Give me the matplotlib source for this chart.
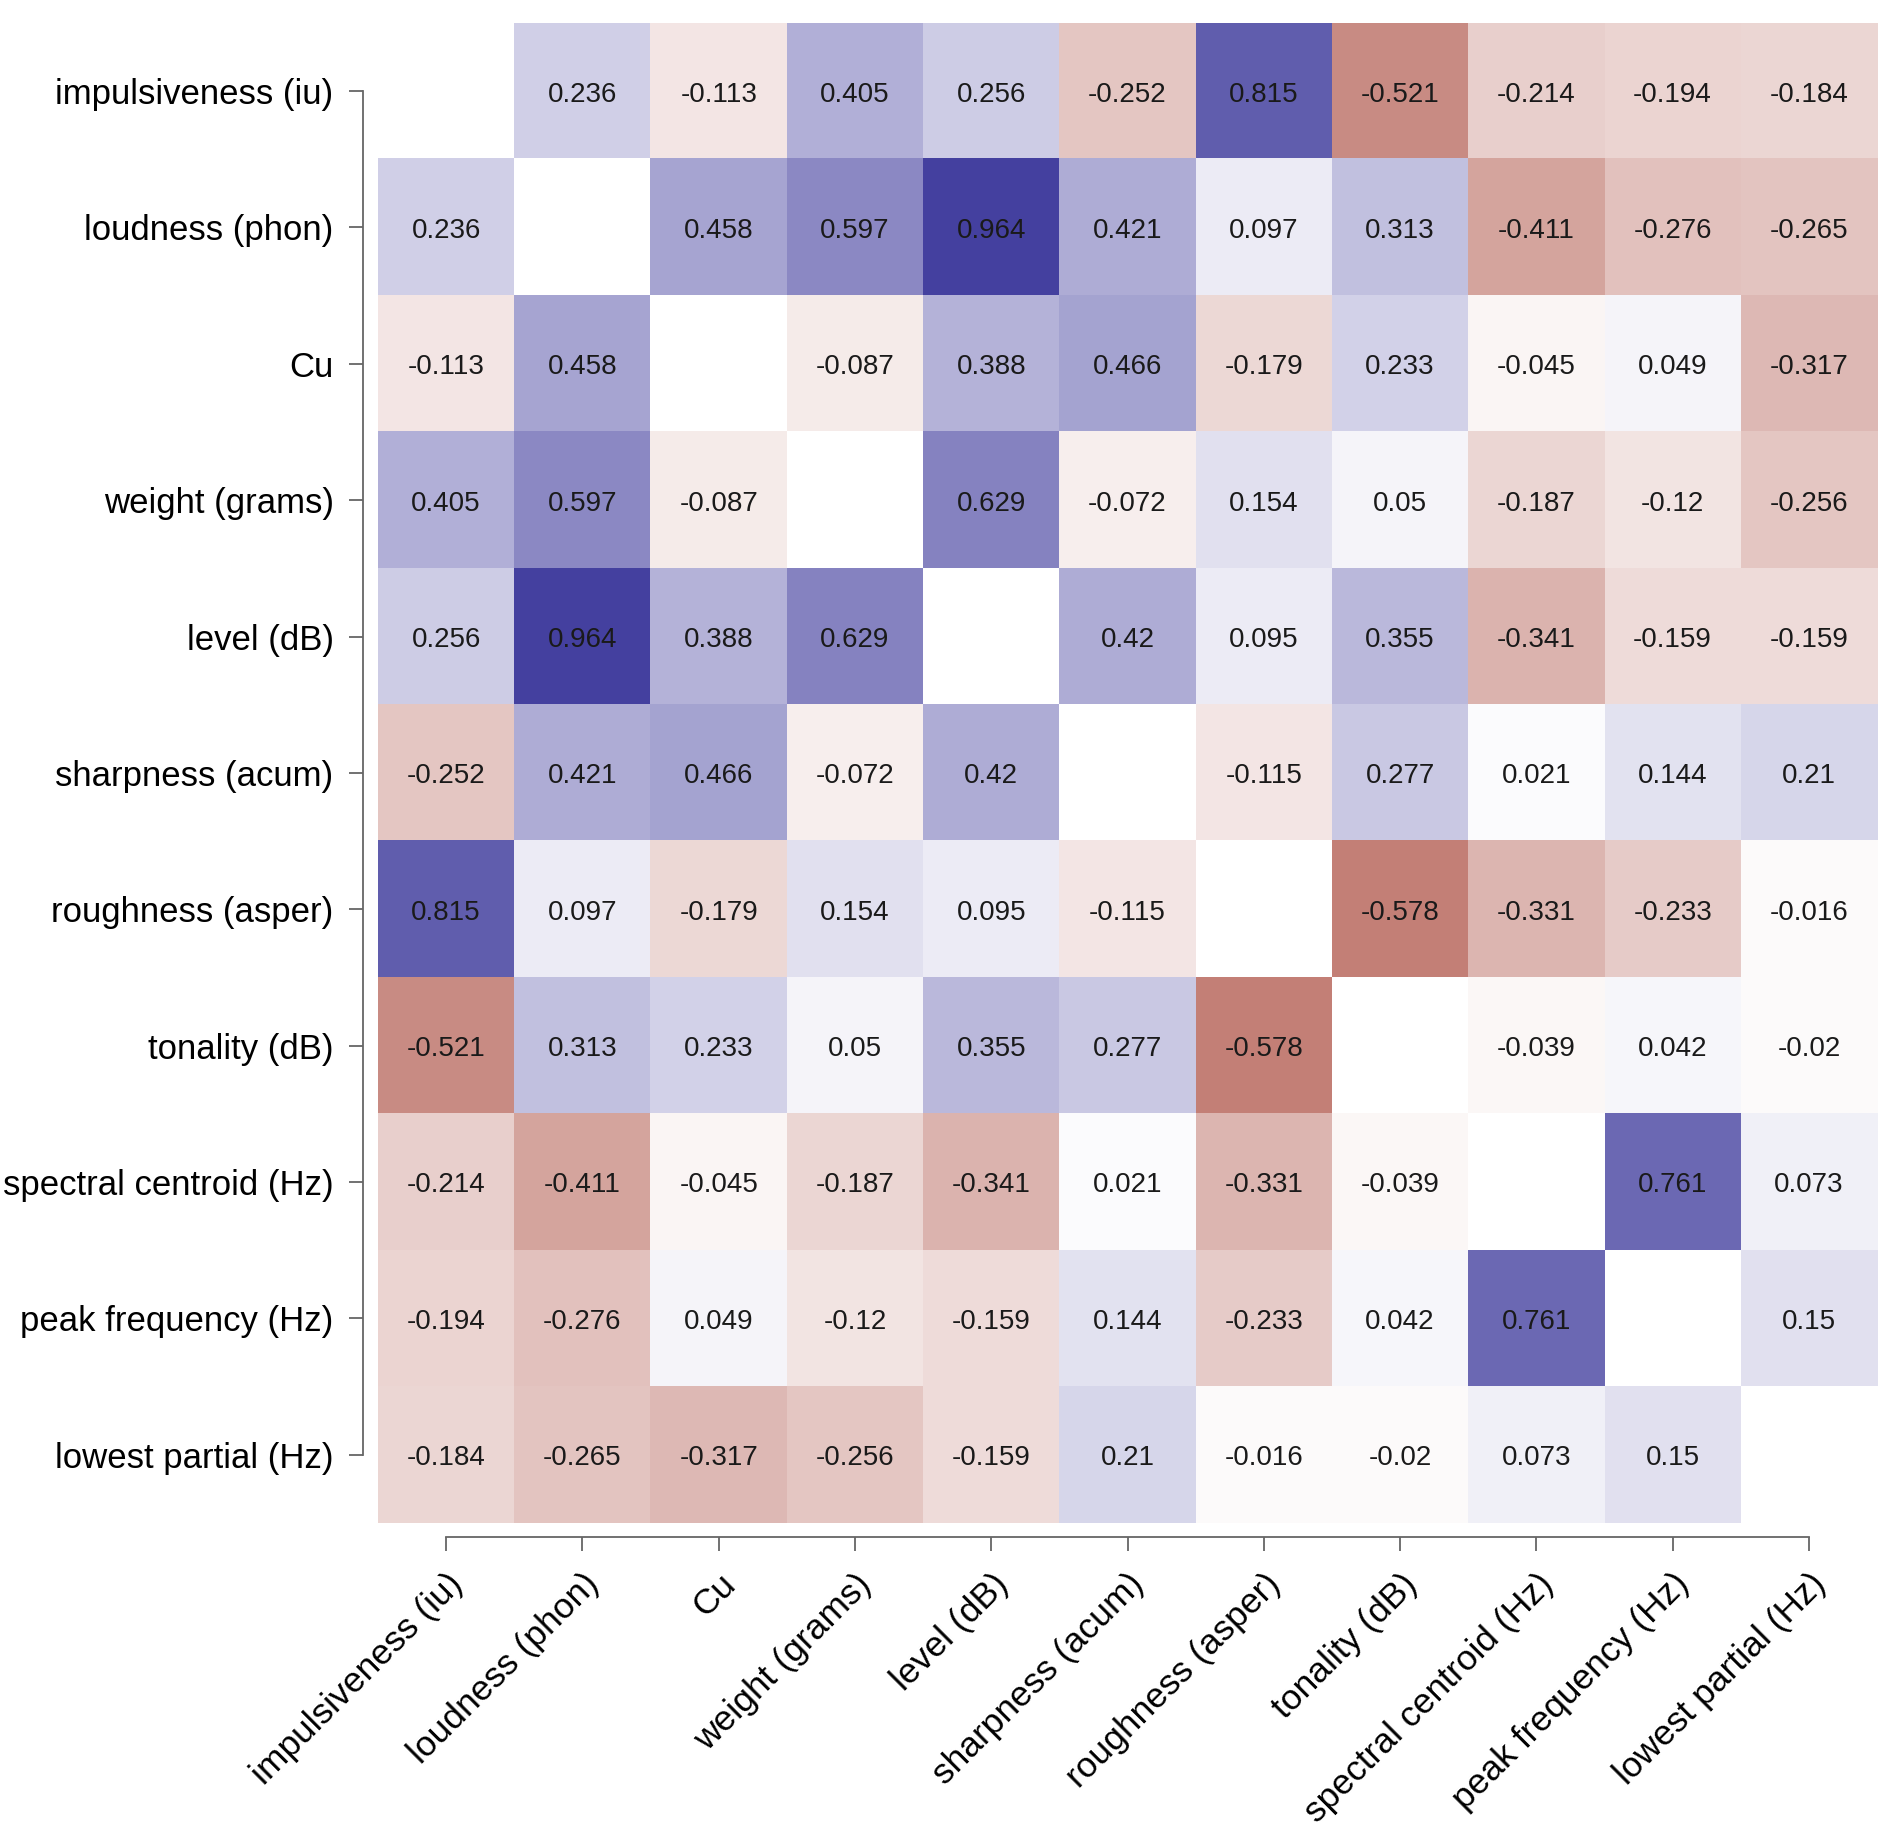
import numpy as np
import matplotlib
matplotlib.use("Agg")
import matplotlib.pyplot as plt
from matplotlib.colors import LinearSegmentedColormap

plt.rcParams['font.family'] = ['Liberation Sans', 'DejaVu Sans']

# variable names (same order for rows and columns)
labels = ['impulsiveness (iu)', 'loudness (phon)', 'Cu', 'weight (grams)',
          'level (dB)', 'sharpness (acum)', 'roughness (asper)', 'tonality (dB)',
          'spectral centroid (Hz)', 'peak frequency (Hz)', 'lowest partial (Hz)']

# correlation matrix, diagonal left empty
nan = np.nan
r_impulsiveness = [nan, 0.236, -0.113, 0.405, 0.256, -0.252, 0.815, -0.521, -0.214, -0.194, -0.184]
r_loudness      = [0.236, nan, 0.458, 0.597, 0.964, 0.421, 0.097, 0.313, -0.411, -0.276, -0.265]
r_cu            = [-0.113, 0.458, nan, -0.087, 0.388, 0.466, -0.179, 0.233, -0.045, 0.049, -0.317]
r_weight        = [0.405, 0.597, -0.087, nan, 0.629, -0.072, 0.154, 0.05, -0.187, -0.12, -0.256]
r_level         = [0.256, 0.964, 0.388, 0.629, nan, 0.42, 0.095, 0.355, -0.341, -0.159, -0.159]
r_sharpness     = [-0.252, 0.421, 0.466, -0.072, 0.42, nan, -0.115, 0.277, 0.021, 0.144, 0.21]
r_roughness     = [0.815, 0.097, -0.179, 0.154, 0.095, -0.115, nan, -0.578, -0.331, -0.233, -0.016]
r_tonality      = [-0.521, 0.313, 0.233, 0.05, 0.355, 0.277, -0.578, nan, -0.039, 0.042, -0.02]
r_centroid      = [-0.214, -0.411, -0.045, -0.187, -0.341, 0.021, -0.331, -0.039, nan, 0.761, 0.073]
r_peak          = [-0.194, -0.276, 0.049, -0.12, -0.159, 0.144, -0.233, 0.042, 0.761, nan, 0.15]
r_lowest        = [-0.184, -0.265, -0.317, -0.256, -0.159, 0.21, -0.016, -0.02, 0.073, 0.15, nan]

corr = np.array([r_impulsiveness, r_loudness, r_cu, r_weight, r_level, r_sharpness,
                 r_roughness, r_tonality, r_centroid, r_peak, r_lowest])
n = len(labels)

cmap = LinearSegmentedColormap.from_list('rdwbu', ['#972213', '#ffffff', '#3e3a9c'])
cmap.set_bad('white')

fig = plt.figure(figsize=(18.92, 18.48), dpi=100)
ax = fig.add_axes([0.1998, 0.1759, 0.7923, 0.8117])

ax.imshow(np.ma.masked_invalid(corr), cmap=cmap, vmin=-1, vmax=1,
          aspect='auto', interpolation='nearest')

# numbers in the cells
for i in range(n):
    for j in range(n):
        if not np.isnan(corr[i, j]):
            ax.text(j, i + 0.025, f'{corr[i, j]:g}', ha='center', va='center',
                    fontsize=20, color='#1a1a1a')

# R-style detached axes
for side in ['top', 'right']:
    ax.spines[side].set_visible(False)
ax.spines['left'].set_position(('outward', 11))
ax.spines['bottom'].set_position(('outward', 10))
ax.spines['left'].set_bounds(0, n - 1)
ax.spines['bottom'].set_bounds(0, n - 1)
for side in ['left', 'bottom']:
    ax.spines[side].set_color('#666666')
    ax.spines[side].set_linewidth(1.3)

ax.set_xticks(range(n))
ax.set_yticks(range(n))
ax.set_yticklabels(labels, fontsize=25)
ax.set_xticklabels(labels, fontsize=25.5, rotation=45, ha='right', rotation_mode='anchor')
ax.tick_params(axis='both', length=10, width=1.3, color='#666666', pad=12)
ax.tick_params(axis='y', pad=11)

fig.savefig('out.png', dpi=100)
